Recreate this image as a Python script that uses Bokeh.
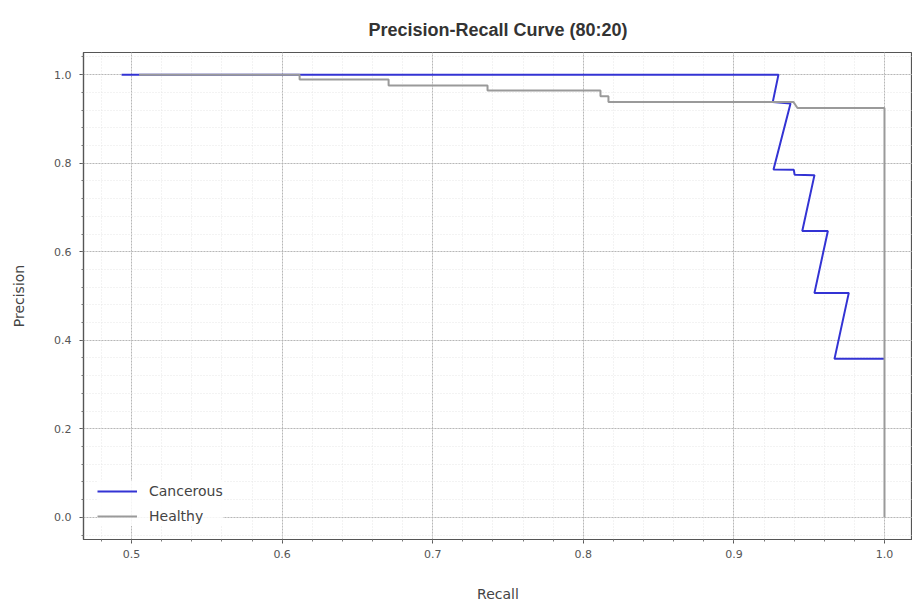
from bokeh.plotting import figure
from bokeh.models import Range1d, Legend, LegendItem, SingleIntervalTicker, NumeralTickFormatter
from bokeh.embed import file_html
from bokeh.resources import INLINE

# Data
cancer_recall = [0.4934, 0.9296, 0.9258, 0.9376, 0.9263, 0.9398, 0.9403, 0.9535,
                 0.9454, 0.9624, 0.9535, 0.9763, 0.9668, 1.0]
cancer_precision = [1.0, 1.0, 0.938, 0.935, 0.786, 0.785, 0.774, 0.773,
                    0.647, 0.647, 0.507, 0.507, 0.358, 0.358]

healthy_recall = [0.505, 0.6116, 0.6116, 0.6707, 0.6707, 0.7364, 0.7364, 0.8114,
                  0.8114, 0.8167, 0.8167, 0.9396, 0.9422, 1.0, 1.0]
healthy_precision = [1.0, 1.0, 0.9888, 0.9888, 0.9754, 0.9754, 0.9642, 0.9642,
                     0.9514, 0.9514, 0.938, 0.938, 0.9245, 0.9245, 0.0]

series_labels = ["Cancerous", "Healthy"]
title_text = "Precision-Recall Curve (80:20)"

p = figure(width=912, height=604, output_backend="svg", toolbar_location=None,
           x_range=Range1d(0.4681, 1.0186), y_range=Range1d(-0.05, 1.05),
           min_border_left=83, min_border_right=0, min_border_top=52, min_border_bottom=63)

p.title.text = title_text
p.title.align = "center"
p.title.text_font = "Liberation Sans"
p.title.text_font_size = "18px"
p.title.text_font_style = "bold"
p.title.text_color = "#333333"
p.title.standoff = 26

p.background_fill_color = "white"
p.border_fill_color = "white"
p.outline_line_color = "#555555"
p.outline_line_width = 1.2

p.xaxis.ticker = SingleIntervalTicker(interval=0.1, num_minor_ticks=5)
p.yaxis.ticker = SingleIntervalTicker(interval=0.2, num_minor_ticks=5)
p.xaxis.formatter = NumeralTickFormatter(format="0.0")
p.yaxis.formatter = NumeralTickFormatter(format="0.0")

for ax in (p.xaxis, p.yaxis):
    ax.axis_line_color = "#555555"
    ax.axis_line_width = 1.2
    ax.major_tick_line_color = "#555555"
    ax.minor_tick_line_color = "#777777"
    ax.major_tick_in = 0
    ax.major_tick_out = 4
    ax.minor_tick_in = 0
    ax.minor_tick_out = 2
    ax.major_label_text_font = "DejaVu Sans"
    ax.major_label_text_font_size = "11px"
    ax.major_label_text_color = "#555555"
    ax.axis_label_text_font = "DejaVu Sans"
    ax.axis_label_text_font_size = "14px"
    ax.axis_label_text_font_style = "normal"
    ax.axis_label_text_color = "#444444"

p.xaxis.axis_label = "Recall"
p.yaxis.axis_label = "Precision"
p.xaxis.axis_label_standoff = 25
p.yaxis.axis_label_standoff = 24
p.xaxis.major_label_standoff = 6
p.yaxis.major_label_standoff = 8

for g in (p.xgrid, p.ygrid):
    g.grid_line_color = "#b0b0b0"
    g.grid_line_dash = "2 1"
    g.grid_line_width = 0.9
    g.minor_grid_line_color = "#e0e0e0"
    g.minor_grid_line_dash = "1 2"
    g.minor_grid_line_width = 0.8

r_c = p.line(cancer_recall, cancer_precision, line_color="#3333d4", line_width=2)
r_h = p.line(healthy_recall, healthy_precision, line_color="#9a9a9a", line_width=2)

legend = Legend(items=[LegendItem(label=series_labels[0], renderers=[r_c]),
                       LegendItem(label=series_labels[1], renderers=[r_h])],
                location=(14, 13))
legend.label_text_font = "DejaVu Sans"
legend.label_text_font_size = "14px"
legend.label_text_color = "#444444"
legend.glyph_width = 40
legend.glyph_height = 20
legend.spacing = 5
legend.padding = 8
legend.label_standoff = 12
legend.border_line_color = None
legend.background_fill_color = "white"
legend.background_fill_alpha = 0.85
p.add_layout(legend)

open("out.html", "w").write(file_html(p, INLINE))
